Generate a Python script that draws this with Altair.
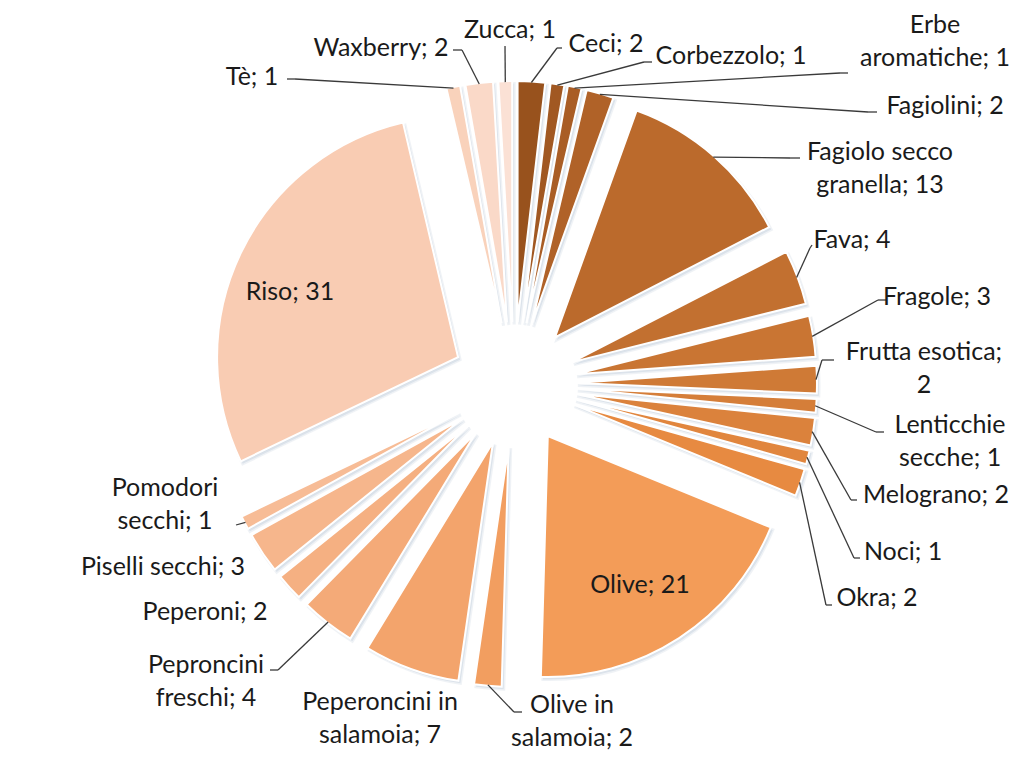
import altair as alt
import pandas as pd

# ---- data (clockwise from 12 o'clock) ----
categories = ["Ceci", "Corbezzolo", "Erbe aromatiche", "Fagiolini",
              "Fagiolo secco granella", "Fava", "Fragole", "Frutta esotica",
              "Lenticchie secche", "Melograno", "Noci", "Okra", "Olive",
              "Olive in salamoia", "Peperoncini in salamoia", "Peproncini freschi",
              "Peperoni", "Piselli secchi", "Pomodori secchi", "Riso", "Tè",
              "Waxberry", "Zucca"]
values = [2, 1, 1, 2, 13, 4, 3, 2, 1, 2, 1, 2, 21, 2, 7, 4, 2, 3, 1, 31, 1, 2, 1]
label_lines = ["Ceci; 2", "Corbezzolo; 1", "Erbe\naromatiche; 1", "Fagiolini; 2",
               "Fagiolo secco\ngranella; 13", "Fava; 4", "Fragole; 3",
               "Frutta esotica;\n2", "Lenticchie\nsecche; 1", "Melograno; 2",
               "Noci; 1", "Okra; 2", "Olive; 21", "Olive in\nsalamoia; 2",
               "Peperoncini in\nsalamoia; 7", "Peproncini\nfreschi; 4",
               "Peperoni; 2", "Piselli secchi; 3", "Pomodori\nsecchi; 1",
               "Riso; 31", "Tè; 1", "Waxberry; 2", "Zucca; 1"]

# ---- styles / layout ----
palette = ["#98521d", "#a15822", "#a95d25", "#b06228", "#bb6a2c", "#c27030",
           "#c97533", "#cf7a36", "#d57e39", "#db823c", "#e1863e", "#e78a41",
           "#f39c58", "#f29e60", "#f3a46c", "#f4aa78", "#f5b082", "#f6b68c",
           "#f7bc96", "#f9ccb3", "#f9d2bb", "#fad9c8", "#fbe1d5"]
CX, CY, R, D = 514, 384, 241, 62

# label centres (first line)
label_x = [606, 731, 935, 945, 880, 852, 937, 924, 950, 936, 903, 877, 640,
           572, 380, 206, 205, 163, 165, 290, 252, 381, 510]
label_y = [44, 56, 25, 106, 152, 240, 297, 352, 425, 495, 552, 598, 585,
           705, 702, 665, 612, 567, 488, 292, 77, 48, 30]
# leader line start (near label) and elbow; None = no leader
lead_sx = [562, 652, 848, 877, 800, 812, 886, 834, 884, 857, 860, 832, None,
           522, None, 270, None, None, 236, None, 287, 453, 505]
lead_sy = [48, 62, 73, 112, 158, 245, 300, 360, 432, 500, 558, 605, None,
           712, None, 670, None, None, 525, None, 79, 50, 46]
lead_ex = [557, 644, 840, 868, 790, 810, 878, 822, 876, 851, 854, 826, None,
           514, None, 278, None, None, 236, None, 295, 462, 505]
lead_ey = [48, 62, 73, 112, 158, 248, 300, 360, 432, 500, 558, 605, None,
           712, None, 670, None, None, 525, None, 79, 50, 46]

df = pd.DataFrame({
    "order": list(range(len(categories))),
    "category": categories,
    "value": values,
    "label": label_lines,
    "lx": label_x, "ly": label_y,
    "sx": lead_sx, "sy": lead_sy, "ex": lead_ex, "ey": lead_ey,
})

base = (
    alt.Chart(df)
    .transform_window(cum="sum(value)", sort=[alt.SortField("order")], frame=[None, 0])
    .transform_joinaggregate(total="sum(value)")
    .transform_calculate(
        a0="2*PI*(datum.cum-datum.value)/datum.total",
        a1="2*PI*datum.cum/datum.total",
    )
    .transform_calculate(mid="(datum.a0+datum.a1)/2")
    .transform_calculate(
        px=f"{CX}+{D}*sin(datum.mid)",
        py=f"{CY}-{D}*cos(datum.mid)",
    )
    .transform_calculate(
        ox=f"datum.px+{R - 1}*sin(datum.mid)",
        oy=f"datum.py-{R - 1}*cos(datum.mid)",
        shx="datum.px+2",
        shy="datum.py+2.5",
    )
)

color_scale = alt.Scale(domain=categories, range=palette)

shadow = base.mark_arc(fill="#b8c6d6", opacity=0.55, stroke="#c8d3df",
                       strokeWidth=3, strokeOpacity=0.5).encode(
    x=alt.X("shx:Q", scale=None, axis=None),
    y=alt.Y("shy:Q", scale=None, axis=None),
    theta=alt.Theta("a0:Q", scale=None, stack=None),
    theta2="a1:Q",
    radius=alt.value(R),
)

slices = base.mark_arc(stroke="#ffffff", strokeWidth=2).encode(
    x=alt.X("px:Q", scale=None, axis=None),
    y=alt.Y("py:Q", scale=None, axis=None),
    theta=alt.Theta("a0:Q", scale=None, stack=None),
    theta2="a1:Q",
    radius=alt.value(R),
    color=alt.Color("category:N", scale=color_scale, legend=None),
)

leader1 = base.transform_filter("isValid(datum.sx)").mark_rule(
    color="#3a3a3a", strokeWidth=1.3).encode(
    x=alt.X("sx:Q", scale=None), y=alt.Y("sy:Q", scale=None),
    x2="ex:Q", y2="ey:Q",
)
leader2 = base.transform_filter("isValid(datum.sx)").mark_rule(
    color="#3a3a3a", strokeWidth=1.3).encode(
    x=alt.X("ex:Q", scale=None), y=alt.Y("ey:Q", scale=None),
    x2="ox:Q", y2="oy:Q",
)

labels = base.mark_text(font="Lato", fontSize=25, lineBreak="\n", lineHeight=33,
                        align="center", baseline="middle", color="#1a1a1a").encode(
    x=alt.X("lx:Q", scale=None), y=alt.Y("ly:Q", scale=None),
    text="label:N",
)

chart = (
    alt.layer(shadow, slices, leader1, leader2, labels)
    .properties(width=1024, height=768, padding=0, autosize="none",
                background="#ffffff")
    .configure_view(stroke=None)
)

chart.save("out.html", embed_options={"renderer": "svg", "actions": False})
